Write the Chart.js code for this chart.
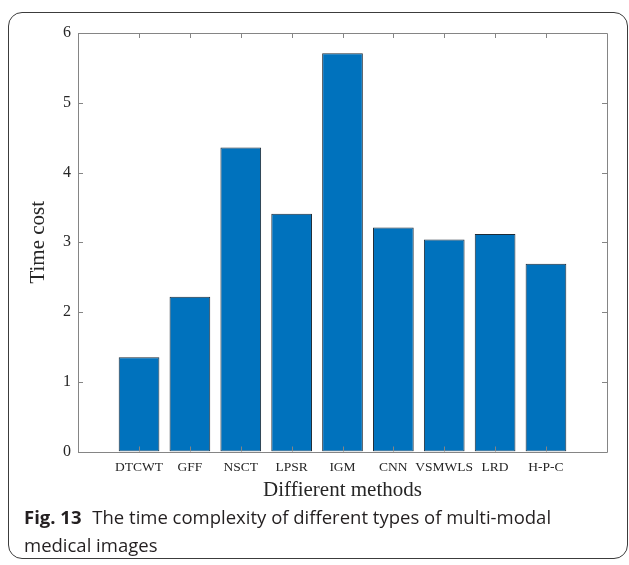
<!DOCTYPE html>
<html>
<head>
<meta charset="utf-8">
<script src="https://cdn.jsdelivr.net/npm/chart.js@4.4.1/dist/chart.umd.min.js"></script>
<style>
	html, body { margin: 0; padding: 0; background: #fff; }
	body { width: 629px; height: 565px; position: relative; overflow: hidden; }
	.frame {
		position: absolute; left: 8px; top: 12px; width: 620px; height: 547px;
		border: 1.5px solid #3c3c3c; border-radius: 14px; box-sizing: border-box;
	}
	#plot { position: absolute; left: 0; top: 0; }
	.caption {
		position: absolute; left: 24px; top: 503px; width: 600px;
		font-family: "Open Sans", "Noto Sans", sans-serif; font-size: 18.5px; line-height: 28px; color: #231f20;
	}
	.caption b { font-weight: 700; margin-right: 6px; }
</style>
</head>
<body>
<div class="frame"></div>
<canvas id="plot" width="629" height="505"></canvas>
<div class="caption"><b>Fig. 13</b> The time complexity of different types of multi-modal<br>medical images</div>
<script>
const methods = ["DTCWT", "GFF", "NSCT", "LPSR", "IGM", "CNN", "VSMWLS", "LRD", "H-P-C"];
const positions = [1, 2, 3, 4, 5, 6, 7, 8, 9];
const timeCost = [1.35, 2.22, 4.36, 3.41, 5.71, 3.21, 3.04, 3.12, 2.69];
const yTicks = [0, 1, 2, 3, 4, 5, 6];

// matlab-style box with inward ticks, drawn over the bars
const axisBox = {
	id: "axisBox",
	afterDatasetsDraw(chart) {
		const { ctx, chartArea: a, scales } = chart;
		const len = 5;
		ctx.save();
		ctx.strokeStyle = "#858585";
		ctx.lineWidth = 1;
		ctx.beginPath();
		positions.forEach((v) => {
			const px = Math.round(scales.x.getPixelForValue(v)) + 0.5;
			ctx.moveTo(px, a.bottom);
			ctx.lineTo(px, a.bottom - len);
			ctx.moveTo(px, a.top);
			ctx.lineTo(px, a.top + len);
		});
		yTicks.forEach((v) => {
			const py = Math.round(scales.y.getPixelForValue(v)) + 0.5;
			ctx.moveTo(a.left, py);
			ctx.lineTo(a.left + len, py);
			ctx.moveTo(a.right, py);
			ctx.lineTo(a.right - len, py);
		});
		ctx.rect(Math.round(a.left) + 0.5, Math.round(a.top) + 0.5, Math.round(a.width), Math.round(a.height));
		ctx.stroke();
		ctx.restore();
	},
};

Chart.defaults.font.family = "'Liberation Serif', 'Times New Roman', serif";
Chart.defaults.color = "#262626";

new Chart(document.getElementById("plot"), {
	type: "bar",
	data: {
		datasets: [
			{
				data: positions.map((p, i) => ({ x: p, y: timeCost[i] })),
				backgroundColor: "#0072BD",
				borderColor: "#1f2b36",
				borderWidth: 1,
				borderSkipped: false,
				barPercentage: 0.8,
				categoryPercentage: 1.0,
			},
		],
	},
	options: {
		responsive: false,
		animation: false,
		layout: { padding: { top: 33, right: 22, left: 0, bottom: 0 } },
		plugins: { legend: { display: false }, tooltip: { enabled: false } },
		scales: {
			x: {
				type: "linear",
				min: -0.2,
				max: 10.2,
				offset: false,
				grid: { display: false, drawTicks: false, offset: false },
				border: { display: false },
				afterBuildTicks: (axis) => {
					axis.ticks = positions.map((v) => ({ value: v }));
				},
				afterFit: (axis) => {
					axis.height = 53.5;
				},
				ticks: {
					autoSkip: false,
					maxRotation: 0,
					padding: 8,
					font: { size: 13.5 },
					callback: (v) => methods[positions.indexOf(v)] || "",
				},
				title: {
					display: true,
					text: "Diffierent methods",
					font: { size: 21 },
					color: "#262626",
					padding: { top: 0, bottom: 2 },
				},
			},
			y: {
				min: 0,
				max: 6,
				grid: { display: false, drawTicks: false },
				border: { display: false },
				afterFit: (axis) => {
					axis.width = 78;
				},
				ticks: { stepSize: 1, padding: 7, font: { size: 16 } },
				title: {
					display: true,
					text: "Time cost",
					font: { size: 21 },
					color: "#262626",
					padding: { top: 26, bottom: 0 },
				},
			},
		},
	},
	plugins: [axisBox],
});
</script>
</body>
</html>
